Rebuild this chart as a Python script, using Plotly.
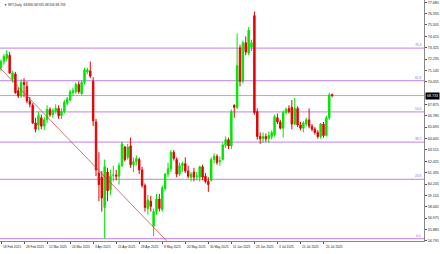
import plotly.graph_objects as go

# ---- data ----
dates = ["18 Feb", "19 Feb", "20 Feb", "21 Feb", "24 Feb", "25 Feb", "26 Feb", "27 Feb", "28 Feb",
         "3 Mar", "4 Mar", "5 Mar", "6 Mar", "7 Mar", "10 Mar", "11 Mar", "12 Mar", "13 Mar", "14 Mar",
         "17 Mar", "18 Mar", "19 Mar", "20 Mar", "21 Mar", "24 Mar", "25 Mar", "26 Mar", "27 Mar", "28 Mar",
         "31 Mar", "1 Apr", "2 Apr", "3 Apr", "4 Apr", "7 Apr", "8 Apr", "9 Apr", "10 Apr", "11 Apr",
         "14 Apr", "15 Apr", "16 Apr", "17 Apr", "21 Apr", "22 Apr", "23 Apr", "24 Apr", "25 Apr",
         "28 Apr", "29 Apr", "30 Apr", "1 May", "2 May", "5 May", "6 May", "7 May", "8 May", "9 May",
         "12 May", "13 May", "14 May", "15 May", "16 May", "19 May", "20 May", "21 May", "22 May", "23 May",
         "26 May", "27 May", "28 May", "29 May", "30 May", "2 Jun", "3 Jun", "4 Jun", "5 Jun", "6 Jun",
         "9 Jun", "10 Jun", "11 Jun", "12 Jun", "13 Jun", "16 Jun", "17 Jun", "18 Jun", "19 Jun", "20 Jun",
         "23 Jun", "24 Jun", "25 Jun", "26 Jun", "27 Jun", "30 Jun", "1 Jul", "2 Jul", "3 Jul", "4 Jul",
         "7 Jul", "8 Jul", "9 Jul", "10 Jul", "11 Jul", "14 Jul", "15 Jul", "16 Jul", "17 Jul", "18 Jul",
         "21 Jul", "22 Jul", "23 Jul", "24 Jul", "25 Jul", "28 Jul", "29 Jul", "30 Jul"]

opens = [71.4, 72.0, 72.3, 72.6, 70.3, 70.8, 69.2, 68.7, 70.0,
         69.6, 68.2, 67.8, 66.1, 65.9, 66.6, 65.8, 66.4, 67.4, 66.9,
         67.2, 67.5, 66.8, 67.2, 68.0, 68.3, 69.0, 69.1, 69.8, 68.9,
         70.0, 71.0, 71.1, 70.1, 66.2, 61.3, 60.9, 58.0, 61.4, 59.7,
         61.1, 61.1, 61.0, 62.0, 63.8, 62.8, 63.9, 62.1, 62.4,
         62.6, 61.6, 60.1, 57.9, 58.6, 56.2, 57.6, 58.8, 57.8, 59.8,
         61.2, 61.7, 63.3, 62.6, 61.2, 62.0, 62.2, 61.5, 60.9, 61.4,
         61.0, 60.9, 61.9, 61.0, 60.5, 60.6, 62.6, 62.9, 62.4, 62.6,
         64.0, 64.5, 63.9, 67.8, 67.6, 73.3, 70.1, 73.8, 72.8, 73.4,
         76.4, 67.2, 64.8, 64.6, 64.8, 64.6, 64.8, 65.0, 66.6, 66.2,
         65.6, 67.1, 67.5, 67.6, 66.0, 67.5, 65.9, 65.6, 66.0, 66.4,
         65.8, 65.5, 65.2, 64.8, 66.0, 64.9, 66.6, 68.83]
highs = [72.2, 72.7, 73.1, 72.9, 71.1, 71.0, 69.5, 70.3, 70.4,
         70.1, 68.6, 68.0, 66.6, 67.2, 66.9, 66.7, 67.8, 67.6, 67.5,
         67.9, 67.8, 67.5, 68.3, 68.6, 69.3, 69.5, 70.0, 70.1, 70.2,
         71.4, 71.4, 72.0, 70.5, 66.5, 63.3, 61.5, 62.6, 61.8, 61.6,
         62.0, 61.6, 62.3, 64.3, 63.9, 64.1, 64.7, 62.8, 63.0,
         62.8, 61.9, 60.3, 59.2, 59.1, 57.9, 59.3, 59.3, 60.1, 61.3,
         62.3, 63.5, 63.5, 62.8, 62.3, 62.4, 62.8, 62.0, 61.4, 61.8,
         61.4, 62.0, 62.1, 61.3, 60.9, 62.8, 63.2, 63.1, 62.9, 64.2,
         64.8, 64.7, 67.4, 67.9, 74.7, 73.6, 74.0, 74.4, 75.3, 74.1,
         76.8, 67.5, 65.2, 65.2, 65.1, 65.3, 65.4, 66.9, 67.0, 66.4,
         67.3, 67.6, 67.8, 68.3, 68.5, 67.7, 66.2, 66.3, 66.6, 67.5,
         66.0, 65.7, 65.4, 66.1, 66.2, 66.8, 69.0, 68.925]
lows = [71.1, 71.7, 72.0, 70.8, 70.0, 68.9, 68.5, 68.5, 68.6,
        68.0, 67.6, 66.0, 65.2, 65.4, 65.5, 65.4, 66.1, 66.7, 66.6,
        67.0, 66.5, 66.5, 67.0, 67.8, 68.2, 68.7, 68.9, 68.9, 68.8,
        69.8, 70.8, 70.4, 65.8, 61.0, 58.6, 57.6, 55.0, 58.6, 59.2,
        60.5, 60.6, 60.2, 61.9, 62.4, 62.6, 61.8, 61.4, 62.0,
        61.2, 59.9, 57.6, 57.3, 57.6, 55.25, 57.3, 57.6, 57.6, 59.6,
        60.9, 61.4, 62.5, 60.9, 61.0, 61.4, 61.3, 60.8, 60.5, 60.5,
        60.6, 60.5, 60.6, 60.3, 59.5, 60.5, 62.2, 62.1, 62.0, 62.5,
        63.7, 63.6, 63.6, 66.6, 67.4, 69.6, 69.9, 72.6, 72.6, 73.0,
        66.9, 64.5, 64.1, 64.2, 64.3, 64.2, 64.5, 64.8, 66.0, 65.5,
        64.7, 66.9, 67.0, 65.5, 65.9, 65.7, 65.4, 65.2, 65.8, 65.6,
        65.3, 65.0, 64.6, 64.6, 64.7, 64.8, 66.4, 68.556]
closes = [72.0, 72.5, 72.7, 70.9, 70.9, 69.0, 68.7, 70.0, 69.8,
          68.2, 67.9, 66.1, 65.5, 66.8, 65.8, 66.4, 67.4, 66.9, 67.3,
          67.5, 66.8, 67.2, 68.1, 68.4, 69.1, 69.2, 69.8, 69.1, 70.0,
          71.2, 71.2, 70.6, 66.3, 61.6, 60.2, 58.9, 61.9, 59.6, 61.0,
          61.1, 61.0, 62.0, 64.1, 62.6, 63.8, 62.1, 62.4, 62.7,
          61.6, 60.1, 58.0, 58.7, 58.1, 57.6, 58.8, 57.9, 59.9, 61.2,
          61.7, 63.3, 62.7, 61.2, 62.0, 62.2, 61.5, 61.0, 61.2, 60.9,
          61.0, 61.9, 60.9, 60.5, 60.2, 62.6, 62.9, 62.3, 62.5, 64.0,
          64.5, 63.9, 67.2, 67.6, 71.6, 70.1, 73.8, 72.9, 75.0, 73.8,
          67.1, 64.8, 64.6, 64.8, 64.6, 64.9, 65.2, 66.7, 66.2, 65.6,
          67.1, 67.4, 67.2, 66.0, 67.5, 65.9, 65.6, 66.1, 66.4, 65.8,
          65.5, 65.2, 64.8, 66.0, 64.9, 66.6, 68.8, 68.733]

date_tick_labels = ["18 Feb 2025", "28 Feb 2025", "12 Mar 2025", "24 Mar 2025", "3 Apr 2025",
                    "15 Apr 2025", "28 Apr 2025", "8 May 2025", "20 May 2025", "30 May 2025",
                    "11 Jun 2025", "23 Jun 2025", "3 Jul 2025", "15 Jul 2025", "25 Jul 2025"]
# the 68.965 label is hidden behind the current-price badge in the reference
price_ticks = [54.795, 55.885, 56.975, 58.065, 59.155, 60.245, 61.335, 62.425, 63.515, 64.605,
               65.695, 66.785, 67.875, 70.055, 71.145, 72.235, 73.325, 74.415, 75.505,
               76.595, 77.685]

fib_names = ["0.0", "23.6", "38.2", "50.0", "61.8", "76.4"]
fib_prices = [55.0, 60.69, 64.26, 67.17, 70.16, 73.28]

trend_x = [-3, 57.5]
trend_y = [72.14, 54.8]

title_text = "WTI,Daily  68.830 68.925 68.556 68.733"

# ---- figure ----
idx = list(range(len(opens)))
date_tick_idx = [idx[dates.index(d.rsplit(" ", 1)[0])] for d in date_tick_labels]

GREEN = "#00e600"
RED = "#e60000"
FIB = "#cc99ee"
TXT = "#222222"
SMALL = 3.2

fig = go.Figure()
fig.add_trace(go.Candlestick(
    x=idx, open=opens, high=highs, low=lows, close=closes,
    increasing=dict(line=dict(color=GREEN, width=1), fillcolor=GREEN),
    decreasing=dict(line=dict(color=RED, width=1), fillcolor=RED),
    whiskerwidth=0, hoverinfo="skip", showlegend=False,
))
fig.add_trace(go.Scatter(x=trend_x, y=trend_y, mode="lines",
                         line=dict(color="#cc3333", width=0.7),
                         hoverinfo="skip", showlegend=False))

for name, p in zip(fib_names, fib_prices):
    fig.add_shape(type="line", xref="paper", x0=0, x1=1, yref="y", y0=p, y1=p,
                  line=dict(color=FIB, width=1.3), layer="below")
    fig.add_annotation(xref="paper", x=1.0, yref="y", y=p, text=name, showarrow=False,
                       xanchor="right", yanchor="bottom", font=dict(size=SMALL, color="#9966cc"),
                       xshift=-1, yshift=-1)

# bid line
fig.add_shape(type="line", xref="paper", x0=0, x1=1, yref="y", y0=closes[-1], y1=closes[-1],
              line=dict(color="#b0b0b0", width=1), layer="below")
fig.add_annotation(xref="paper", x=1.0, yref="y", y=closes[-1], text=f"{closes[-1]:.3f}",
                   showarrow=False, xanchor="left", yanchor="middle", bgcolor="#000000",
                   font=dict(size=3.6, color="#ffffff", family="Liberation Sans"), borderpad=1,
                   xshift=1)

fig.add_annotation(xref="paper", yref="paper", x=0.005, y=0.995, text="▼ " + title_text,
                   showarrow=False, xanchor="left", yanchor="top",
                   font=dict(size=SMALL, color=TXT, family="Liberation Sans"))

# date labels, left-aligned at their bars (as in the reference)
for i, lab in zip(date_tick_idx, date_tick_labels):
    fig.add_annotation(xref="x", x=i, yref="paper", y=0, text=lab, showarrow=False,
                       xanchor="left", yanchor="top", xshift=0, yshift=-2,
                       font=dict(size=SMALL, color=TXT, family="Liberation Sans"))

fig.update_layout(
    width=440, height=254,
    margin=dict(l=0, r=16, t=0, b=13),
    paper_bgcolor="white", plot_bgcolor="white",
    font=dict(family="Liberation Sans", size=SMALL, color=TXT),
    xaxis=dict(range=[-0.35, 146.9], showgrid=False, zeroline=False, automargin=False,
               rangeslider=dict(visible=False),
               tickmode="array", tickvals=date_tick_idx, showticklabels=False,
               ticks="outside", ticklen=2, tickcolor="#555555",
               showline=True, linecolor="#888888", linewidth=1, mirror=True),
    yaxis=dict(range=[54.78, 77.90], side="right", showgrid=False, zeroline=False, automargin=False,
               tickmode="array", tickvals=price_ticks, ticktext=[f"{v:.3f}" for v in price_ticks],
               ticks="outside", ticklen=2, tickcolor="#555555",
               tickfont=dict(size=3.6, color=TXT),
               showline=True, linecolor="#888888", linewidth=1, mirror=True),
    boxgap=0.3,
)

fig.write_html("out.html")
